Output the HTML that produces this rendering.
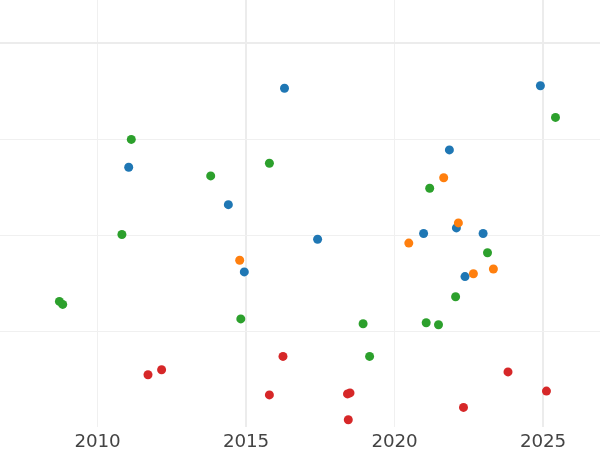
<!DOCTYPE html>
<html><head><meta charset="utf-8"><title>chart</title>
<style>
html,body{margin:0;padding:0;background:#fff;}
body{width:600px;height:450px;overflow:hidden;position:relative;font-family:"DejaVu Sans","Liberation Sans",sans-serif;}
.v,.h{position:absolute;background:#ececec;}
.v{top:0;height:426.7px;}
.h{left:0;width:600px;}
.v1{width:1px;background:#f0f0f0}.v2{width:2px}
.h1{height:1px;background:#f0f0f0}.h2{height:2px}
.t{position:absolute;top:430px;width:80px;margin-left:-40px;text-align:center;font-size:18.3px;letter-spacing:-0.15px;line-height:22px;color:#444;}
svg{position:absolute;left:0;top:0;}
</style></head><body>
<div class="v v1" style="left:97px"></div>
<div class="v v2" style="left:245px"></div>
<div class="v v1" style="left:394px"></div>
<div class="v v2" style="left:542px"></div>
<div class="h h2" style="top:42px"></div>
<div class="h h1" style="top:139px"></div>
<div class="h h1" style="top:235px"></div>
<div class="h h1" style="top:331px"></div>
<svg width="600" height="450" viewBox="0 0 600 450">
<g fill="#1f77b4"><circle cx="284.50" cy="88.20" r="4.50"/><circle cx="540.40" cy="85.70" r="4.50"/><circle cx="128.70" cy="167.30" r="4.50"/><circle cx="228.35" cy="204.65" r="4.50"/><circle cx="449.40" cy="149.90" r="4.50"/><circle cx="317.60" cy="239.20" r="4.50"/><circle cx="423.60" cy="233.50" r="4.50"/><circle cx="456.40" cy="227.90" r="4.50"/><circle cx="483.10" cy="233.50" r="4.50"/><circle cx="244.30" cy="271.90" r="4.50"/><circle cx="465.00" cy="276.60" r="4.50"/></g>
<g fill="#ff7f0e"><circle cx="443.70" cy="177.70" r="4.50"/><circle cx="458.40" cy="222.90" r="4.50"/><circle cx="408.80" cy="243.10" r="4.50"/><circle cx="239.70" cy="260.30" r="4.50"/><circle cx="473.40" cy="273.80" r="4.50"/><circle cx="493.40" cy="269.00" r="4.50"/></g>
<g fill="#2ca02c"><circle cx="131.30" cy="139.40" r="4.50"/><circle cx="555.50" cy="117.40" r="4.50"/><circle cx="269.40" cy="163.20" r="4.50"/><circle cx="210.70" cy="175.90" r="4.50"/><circle cx="429.70" cy="188.30" r="4.50"/><circle cx="121.90" cy="234.50" r="4.50"/><circle cx="487.50" cy="252.70" r="4.50"/><circle cx="59.40" cy="301.40" r="4.50"/><circle cx="62.70" cy="304.40" r="4.50"/><circle cx="240.80" cy="318.90" r="4.50"/><circle cx="363.10" cy="323.80" r="4.50"/><circle cx="426.20" cy="322.70" r="4.50"/><circle cx="438.50" cy="324.70" r="4.50"/><circle cx="455.60" cy="296.80" r="4.50"/><circle cx="369.60" cy="356.40" r="4.50"/></g>
<g fill="#d62728"><circle cx="283.00" cy="356.40" r="4.50"/><circle cx="148.00" cy="374.70" r="4.50"/><circle cx="161.60" cy="369.70" r="4.50"/><circle cx="269.40" cy="394.90" r="4.50"/><circle cx="347.50" cy="393.90" r="4.50"/><circle cx="350.00" cy="392.90" r="4.50"/><circle cx="348.30" cy="419.70" r="4.50"/><circle cx="463.50" cy="407.40" r="4.50"/><circle cx="508.00" cy="371.90" r="4.50"/><circle cx="546.45" cy="391.10" r="4.50"/></g>
</svg>
<div class="t" style="left:97.5px">2010</div>
<div class="t" style="left:246px">2015</div>
<div class="t" style="left:394.5px">2020</div>
<div class="t" style="left:543px">2025</div>
</body></html>
